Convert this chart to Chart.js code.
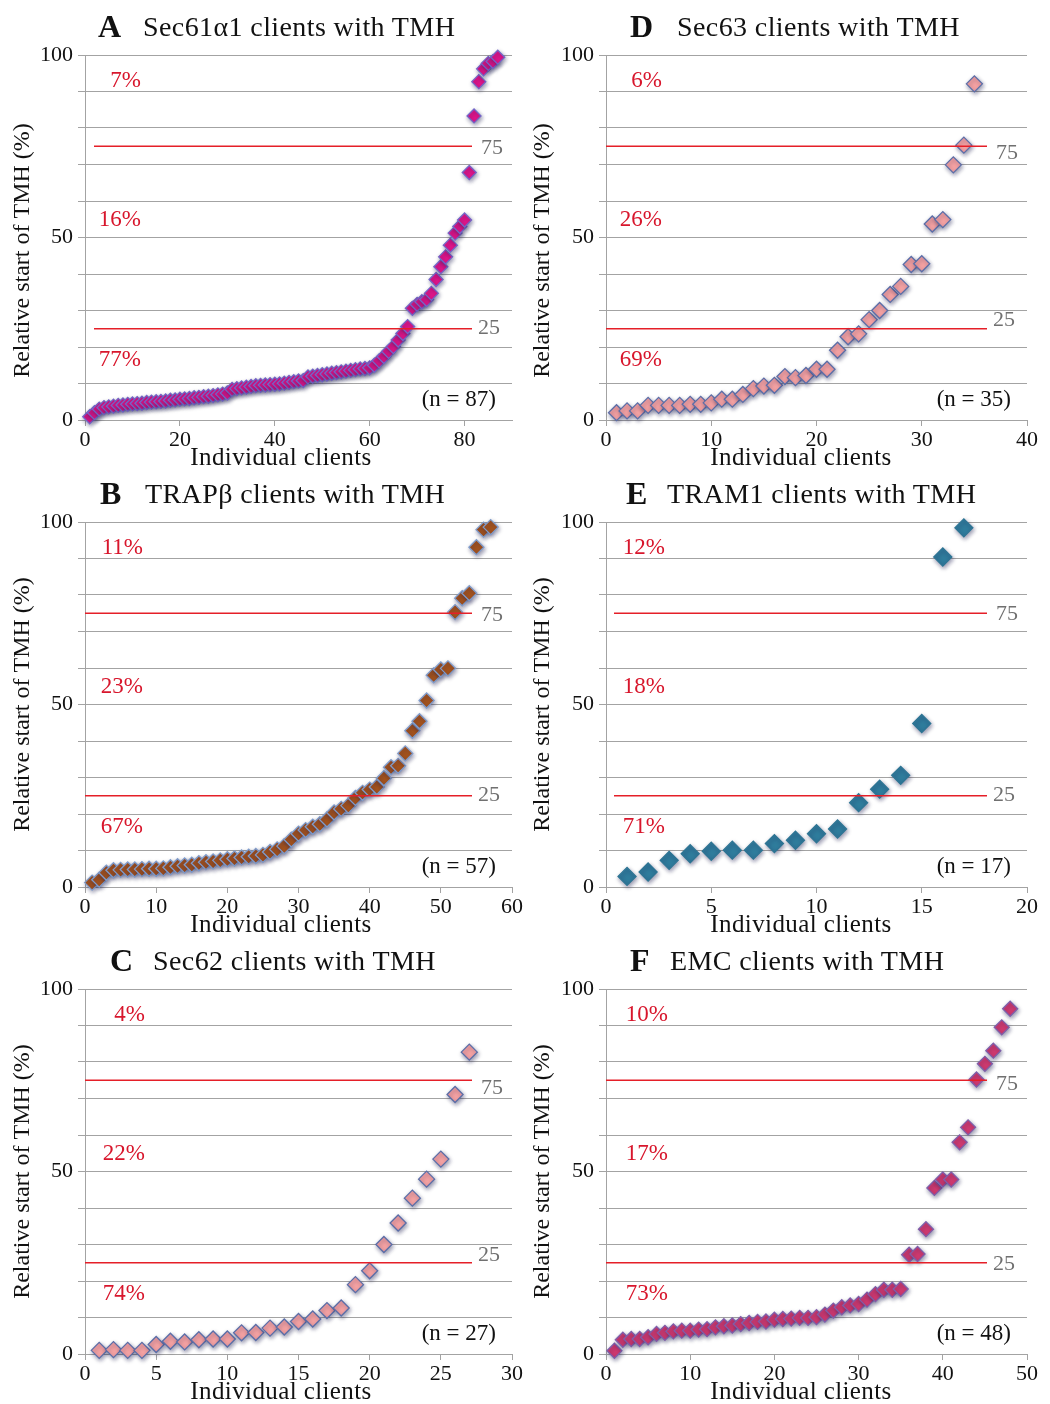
<!DOCTYPE html>
<html>
<head>
<meta charset="utf-8">
<script src="https://cdn.jsdelivr.net/npm/chart.js@4.4.0/dist/chart.umd.min.js"></script>
<style>
  body { margin:0; width:1050px; height:1404px; background:#fff; position:relative; overflow:hidden; font-family:"Liberation Serif", serif; }
  canvas { position:absolute; }
  .ttl { position:absolute; font-size:28px; line-height:30px; color:#111; white-space:nowrap; letter-spacing:0.4px; }
  .ttl.big { font-size:32px; font-weight:bold; letter-spacing:0; }
</style>
</head>
<body>
<script>
// relative start of TMH (%) per client, sorted as plotted
const sec61Vals = [0.9, 2.0, 3.0, 3.4, 3.6, 3.8, 4.0, 4.1, 4.3, 4.4,
  4.5, 4.6, 4.8, 4.9, 5.0, 5.1, 5.2, 5.4, 5.5, 5.7,
  5.8, 5.9, 6.1, 6.2, 6.4, 6.5, 6.7, 6.9, 7.1, 7.4,
  8.4, 8.6, 8.8, 9.0, 9.2, 9.4, 9.5, 9.6, 9.7, 9.8,
  9.9, 10.1, 10.3, 10.5, 10.7, 10.8, 11.8, 12.0, 12.2, 12.4,
  12.6, 12.8, 13.0, 13.2, 13.4, 13.6, 13.8, 14.0, 14.1, 14.3,
  15.0, 16.2, 17.4, 18.8, 20.1, 21.9, 23.7, 25.6, 30.6, 31.7,
  32.4, 33.0, 34.7, 38.5, 42.0, 44.7, 47.9, 51.2, 53.0, 54.8,
  67.8, 83.3, 92.7, 96.2, 97.7, 98.2, 99.4];
const trapVals = [1.2, 2.0, 3.9, 4.6, 4.7, 4.8, 4.8, 4.9, 5.0, 5.0,
  5.1, 5.4, 5.7, 5.9, 6.1, 6.5, 6.8, 7.0, 7.3, 7.6,
  7.8, 8.1, 8.3, 8.5, 8.8, 9.6, 10.3, 11.2, 13.0, 14.6,
  15.6, 16.5, 17.2, 18.5, 20.4, 21.4, 22.3, 24.4, 25.8, 26.7,
  27.4, 29.8, 32.8, 33.2, 36.6, 42.8, 45.4, 51.1, 58.0, 59.6,
  59.9, 75.3, 79.1, 80.5, 93.1, 97.9, 98.6];
const sec62Vals = [1.0, 1.2, 1.0, 1.0, 2.6, 3.5, 3.3, 3.9, 4.1, 4.1,
  5.8, 5.9, 7.1, 7.4, 8.9, 9.6, 11.9, 12.6, 19.0, 22.8,
  30.0, 35.9, 42.7, 47.9, 53.4, 71.1, 82.7];
const sec63Vals = [2.0, 2.5, 2.5, 4.0, 4.0, 4.0, 4.0, 4.3, 4.3, 4.7,
  5.7, 5.7, 7.0, 8.6, 9.3, 9.5, 11.9, 11.6, 12.2, 13.9,
  13.9, 19.1, 22.8, 23.6, 27.5, 30.0, 34.4, 36.6, 42.6, 42.8,
  53.7, 54.9, 69.9, 75.3, 92.1];
const tramVals = [2.9, 4.1, 7.3, 9.1, 9.8, 10.1, 10.1, 11.9, 12.8, 14.6,
  15.9, 23.1, 26.8, 30.6, 44.8, 90.4, 98.4];
const emcVals = [0.9, 3.9, 4.1, 4.1, 4.6, 5.5, 5.8, 6.2, 6.4, 6.4,
  6.7, 6.8, 7.3, 7.6, 7.8, 8.2, 8.5, 8.8, 8.9, 9.4,
  9.6, 9.7, 9.9, 9.9, 10.1, 10.8, 11.9, 12.8, 13.3, 13.7,
  14.9, 16.4, 17.6, 17.6, 17.8, 27.2, 27.4, 34.2, 45.5, 47.8,
  47.8, 58.0, 62.1, 75.2, 79.5, 83.1, 89.5, 94.6];

// share of clients above 75 / between / below 25
const sec61Pct = ['7%', '16%', '77%'];
const trapPct = ['11%', '23%', '67%'];
const sec62Pct = ['4%', '22%', '74%'];
const sec63Pct = ['6%', '26%', '69%'];
const tramPct = ['12%', '18%', '71%'];
const emcPct = ['10%', '17%', '73%'];

const cutoffs = [25, 75];
const yTicks = [0, 50, 100];

// layout
const PCT_AT = [92.9, 54.8, 16.4];
const N_AT = 5.5;
const ROW_H = 467;
const SERIF = '"Liberation Serif", serif';
const GRID = '#a3a3a3';

const panels = [
  { letter:'A', name:'Sec61α1 clients with TMH', vals:sec61Vals, pct:sec61Pct, xMax:90, xStep:20, col:0, row:0,
    fill:'#e2158a', edge:'#7466c8', r:7, redStart:9, letterX:98, textX:143, pctX:56, d75:2, d25:-1, yDy:13 },
  { letter:'B', name:'TRAPβ clients with TMH', vals:trapVals, pct:trapPct, xMax:60, xStep:10, col:0, row:1,
    fill:'#a5531c', edge:'#7f9ccc', r:7.5, redStart:0, letterX:100, textX:145, pctX:58, d75:2, d25:-1, yDy:0 },
  { letter:'C', name:'Sec62 clients with TMH', vals:sec62Vals, pct:sec62Pct, xMax:30, xStep:5, col:0, row:2,
    fill:'#f6a3a3', edge:'#5b6ea8', r:8, redStart:0, letterX:110, textX:153, pctX:60, d75:8, d25:-8, yDy:0 },
  { letter:'D', name:'Sec63 clients with TMH', vals:sec63Vals, pct:sec63Pct, xMax:40, xStep:10, col:1, row:0,
    fill:'#f6a3a3', edge:'#5b6ea8', r:8, redStart:0, letterX:630, textX:677, pctX:56, d75:7, d25:-9, yDy:13 },
  { letter:'E', name:'TRAM1 clients with TMH', vals:tramVals, pct:tramPct, xMax:20, xStep:5, col:1, row:1,
    fill:'#2f7d9d', edge:'#2e7594', r:9, redStart:8, letterX:626, textX:667, pctX:59, d75:1, d25:-1, yDy:0 },
  { letter:'F', name:'EMC clients with TMH', vals:emcVals, pct:emcPct, xMax:50, xStep:10, col:1, row:2,
    fill:'#d23a70', edge:'#7e5eaa', r:7.5, redStart:0, letterX:630, textX:670, pctX:62, d75:4, d25:1, yDy:0 }
];

// soft shadow behind the diamonds
const glow = {
  id: 'glow',
  beforeDatasetsDraw(c) {
    const x = c.ctx;
    x.save();
    x.shadowColor = 'rgba(30,30,80,0.45)';
    x.shadowBlur = 4;
    x.shadowOffsetX = 1;
    x.shadowOffsetY = 2;
  },
  afterDatasetsDraw(c) { c.ctx.restore(); }
};

function notes(p) {
  return {
    id: 'notes',
    afterDatasetsDraw(c) {
      const ctx = c.ctx, a = c.chartArea, ys = c.scales.y;
      ctx.save();
      ctx.strokeStyle = '#e51f28';
      ctx.lineWidth = 1.7;
      cutoffs.forEach(v => {
        const y = ys.getPixelForValue(v);
        ctx.beginPath();
        ctx.moveTo(a.left + p.redStart, y);
        ctx.lineTo(a.right - 40, y);
        ctx.stroke();
      });
      ctx.restore();
    },
    afterDraw(c) {
      const ctx = c.ctx, a = c.chartArea, ys = c.scales.y;
      ctx.save();
      // percentages
      ctx.font = '23px ' + SERIF;
      ctx.fillStyle = '#d8162c';
      ctx.textAlign = 'right';
      ctx.textBaseline = 'middle';
      p.pct.forEach((t, i) => ctx.fillText(t, a.left + p.pctX, ys.getPixelForValue(PCT_AT[i])));
      // cutoff labels
      ctx.font = '22px ' + SERIF;
      ctx.fillStyle = '#707070';
      ctx.textAlign = 'left';
      ctx.fillText(String(cutoffs[1]), a.right - 31, ys.getPixelForValue(cutoffs[1]) + p.d75);
      ctx.fillText(String(cutoffs[0]), a.right - 34, ys.getPixelForValue(cutoffs[0]) + p.d25);
      // n
      ctx.font = '23px ' + SERIF;
      ctx.fillStyle = '#111';
      ctx.textAlign = 'right';
      ctx.fillText('(n = ' + p.vals.length + ')', a.right - 16, ys.getPixelForValue(N_AT));
      // x title
      ctx.font = '25px ' + SERIF;
      ctx.letterSpacing = '0.4px';
      ctx.textAlign = 'center';
      ctx.textBaseline = 'alphabetic';
      ctx.fillText('Individual clients', 281, 465);
      // y title
      ctx.letterSpacing = '0px';
      ctx.font = '24px ' + SERIF;
      ctx.translate(23, (a.top + a.bottom) / 2 + p.yDy);
      ctx.rotate(-Math.PI / 2);
      ctx.textBaseline = 'middle';
      ctx.fillText('Relative start of TMH (%)', 0, 0);
      ctx.restore();
    }
  };
}

panels.forEach(p => {
  const left = p.col ? 520 : 0;
  const top = p.row * ROW_H;
  const w = p.col ? 530 : 525;
  const h = 470;

  const cv = document.createElement('canvas');
  cv.width = w; cv.height = h;
  cv.style.left = left + 'px';
  cv.style.top = top + 'px';
  document.body.appendChild(cv);

  const l1 = document.createElement('div');
  l1.className = 'ttl big';
  l1.textContent = p.letter;
  l1.style.left = p.letterX + 'px';
  l1.style.top = (top + 11) + 'px';
  document.body.appendChild(l1);
  const l2 = document.createElement('div');
  l2.className = 'ttl';
  l2.textContent = p.name;
  l2.style.left = p.textX + 'px';
  l2.style.top = (top + 12) + 'px';
  document.body.appendChild(l2);

  const yW = p.col ? 86 : 85;
  const padR = p.col ? 23 : 13;

  new Chart(cv, {
    type: 'scatter',
    data: {
      datasets: [{
        data: p.vals.map((v, i) => ({ x: i + 1, y: v })),
        pointStyle: 'rectRot',
        pointRadius: p.r,
        pointBorderWidth: 1.3,
        backgroundColor: p.fill,
        borderColor: p.edge,
        clip: false
      }]
    },
    options: {
      responsive: false,
      animation: false,
      layout: { padding: { left: 0, top: 55, right: padR, bottom: 3 } },
      plugins: { legend: { display: false }, tooltip: { enabled: false } },
      scales: {
        x: {
          type: 'linear', min: 0, max: p.xMax,
          ticks: { stepSize: p.xStep, includeBounds: false, padding: 1, color: '#111', font: { family: SERIF, size: 22 } },
          grid: { drawOnChartArea: false, drawTicks: true, tickLength: 6, color: GRID },
          border: { color: GRID },
          afterFit(s) { s.height = 47; s.paddingLeft = 0; s.paddingRight = 0; }
        },
        y: {
          min: 0, max: 100,
          ticks: { stepSize: 10, autoSkip: false, padding: 5, color: '#111', font: { family: SERIF, size: 22 },
            callback: v => (yTicks.includes(v) ? v : '') },
          grid: { color: GRID, tickLength: 7 },
          border: { color: GRID },
          afterFit(s) { s.width = yW; s.paddingTop = 0; s.paddingBottom = 0; }
        }
      }
    },
    plugins: [glow, notes(p)]
  });
});
</script>
</body>
</html>
